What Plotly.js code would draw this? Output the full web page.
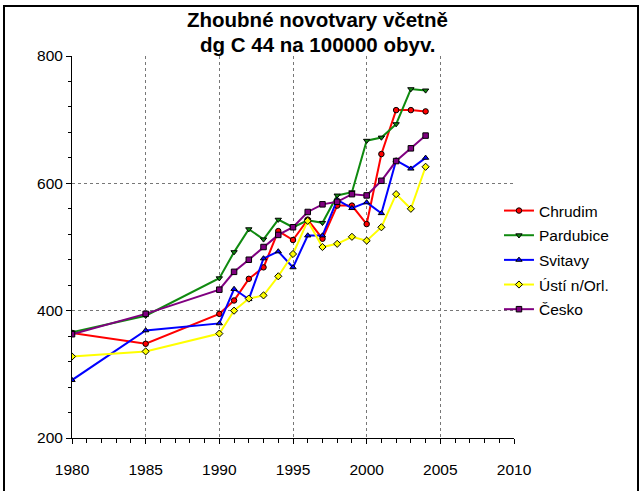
<!DOCTYPE html>
<html>
<head>
<meta charset="utf-8">
<script src="https://cdn.plot.ly/plotly-3.0.1.min.js"></script>
<style>
  html, body { margin: 0; padding: 0; background: #fff; overflow: hidden; }
  #frame { position: absolute; left: 3px; top: 5px; width: 632px; height: 520px; border: 2px solid #000; box-sizing: content-box; pointer-events: none; z-index: 5; }
  #chart { position: absolute; left: 0; top: 0; width: 640px; height: 491px; }
</style>
</head>
<body>
<div id="chart"></div>
<div id="frame"></div>
<script>
const years = [1980, 1985, 1990, 1991, 1992, 1993, 1994, 1995, 1996, 1997, 1998, 1999, 2000, 2001, 2002, 2003, 2004];
const chrudim   = [365, 348, 395, 416, 450, 468, 525, 511, 543, 513, 565, 565, 536, 646, 715, 715, 713];
const pardubice = [366, 392, 451, 492, 528, 512, 543, 531, 542, 538, 581, 586, 667, 672, 693, 748, 746];
const svitavy   = [291, 369, 380, 434, 418, 482, 493, 468, 518, 518, 574, 561, 570, 553, 636, 623, 640];
const usti      = [328, 336, 364, 400, 419, 424, 454, 489, 541, 500, 505, 516, 510, 531, 583, 560, 626];
const cesko     = [363, 395, 433, 461, 480, 500, 519, 531, 555, 567, 571, 583, 581, 604, 635, 655, 675];
const seriesNames = ['Chrudim', 'Pardubice', 'Svitavy', 'Ústí n/Orl.', 'Česko'];
const titleLine1 = 'Zhoubné novotvary včetně';
const titleLine2 = 'dg C 44 na 100000 obyv.';

const values = [chrudim, pardubice, svitavy, usti, cesko];
const colors = ['#ff0000', '#108a10', '#0000ff', '#ffff00', '#800080'];
const symbols = ['circle', 'triangle-down', 'triangle-up', 'diamond', 'square'];

const traces = values.map((v, i) => ({
  type: 'scatter',
  mode: 'lines+markers',
  x: years,
  y: v,
  name: seriesNames[i],
  legendgroup: 'g' + i,
  line: { color: colors[i], width: 2 },
  marker: { symbol: symbols[i], size: 5.5, color: colors[i], line: { color: '#000', width: 1 } }
}));

const font = { family: '"Liberation Sans", Arial, sans-serif', color: '#000' };

const layout = {
  width: 640, height: 491,
  margin: { l: 72, r: 126, t: 56, b: 53, pad: 0 },
  paper_bgcolor: '#fff', plot_bgcolor: '#fff',
  font: Object.assign({ size: 15 }, font),
  showlegend: true,
  title: {
    text: '<b>' + titleLine1 + '</b>',
    font: Object.assign({ size: 20.5 }, font),
    x: 0.496, xref: 'container', xanchor: 'center',
    y: 1 - 20 / 491, yref: 'container', yanchor: 'middle'
  },
  annotations: [{
    text: '<b>' + titleLine2 + '</b>',
    xref: 'paper', yref: 'paper',
    x: (317 - 72) / 442, y: 1 + (56 - 44.5) / 382,
    xanchor: 'center', yanchor: 'middle', showarrow: false,
    font: Object.assign({ size: 20.5 }, font)
  }],
  xaxis: {
    range: [1980, 2010], tick0: 1980, dtick: 5,
    showline: true, linecolor: '#000', linewidth: 1,
    ticks: 'outside', ticklen: 5, tickcolor: '#000', tickwidth: 1,
    ticklabelstandoff: 12,
    showgrid: true, gridcolor: '#777', griddash: 'dot', gridwidth: 1,
    zeroline: false,
    minor: { dtick: 1, ticks: 'outside', ticklen: 4, tickcolor: '#000', showgrid: false },
    tickfont: Object.assign({ size: 15.5 }, font)
  },
  yaxis: {
    range: [200, 800], tick0: 200, dtick: 200,
    showline: true, linecolor: '#000', linewidth: 1,
    ticks: 'outside', ticklen: 5, tickcolor: '#000', tickwidth: 1,
    showgrid: true, gridcolor: '#777', griddash: 'dot', gridwidth: 1,
    zeroline: false,
    minor: { dtick: 40, ticks: 'outside', ticklen: 3, tickcolor: '#000', showgrid: false },
    tickfont: Object.assign({ size: 15.5 }, font)
  },
  legend: {
    x: 0.966, xanchor: 'left', y: 1 - (194 - 56) / 382, yanchor: 'top',
    bgcolor: 'rgba(0,0,0,0)', borderwidth: 0,
    tracegroupgap: 1.5,
    font: Object.assign({ size: 15.5 }, font)
  }
};

Plotly.newPlot('chart', traces, layout, { displayModeBar: false, staticPlot: true });
</script>
</body>
</html>
